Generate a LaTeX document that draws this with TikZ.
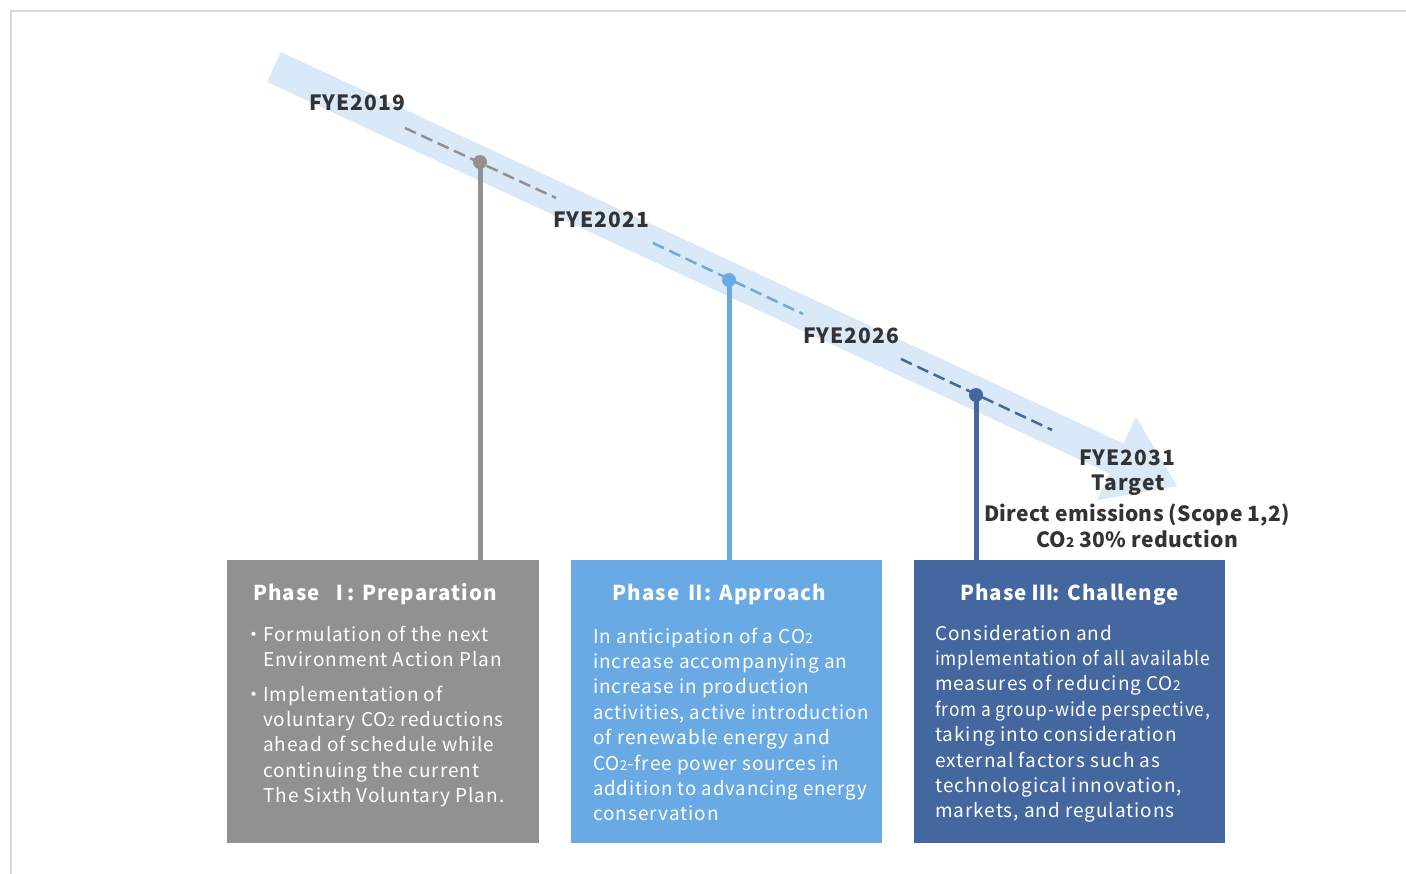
\documentclass[tikz,border=0pt]{standalone}
\usepackage{graphicx}
\usepackage{fontspec}
\setmainfont{Noto Sans CJK JP}[LetterSpace=5]
\newfontfamily\goalfont{Noto Sans CJK JP}[LetterSpace=1.5]
\usetikzlibrary{calc}

\definecolor{band}{HTML}{DAE9F8}
\definecolor{ink}{HTML}{333333}
\definecolor{gphase}{HTML}{919191}
\definecolor{lphase}{HTML}{6AAAE4}
\definecolor{dphase}{HTML}{4467A0}
\definecolor{framegray}{HTML}{D9D9D9}

% CO2 with a small figure two sitting on the baseline
\newcommand\cotwo{CO{\fontsize{13.5}{13.5}\selectfont 2}}
% stacked lines whose first baseline is the node's base
\newcommand\linesL[1]{\begin{tabular}[t]{@{}l@{}}#1\end{tabular}}
\newcommand\linesC[1]{\begin{tabular}[t]{@{}c@{}}#1\end{tabular}}
% a line set to a fixed width
\newcommand\fitw[2]{\resizebox{#1}{\height}{#2}}

\tikzset{
  year/.style={font=\fontsize{21}{26}\selectfont\bfseries, text=ink, anchor=base, inner sep=0pt},
  phasebox/.style={minimum width=#1, minimum height=283pt, anchor=north west, inner sep=0pt},
  title/.style={font=\fontsize{20.5}{26}\selectfont\bfseries, text=white, anchor=base, inner sep=0pt},
  body/.style={font=\fontsize{19}{25.4}\selectfont, text=white, anchor=base west, inner sep=0pt},
  dot/.style={circle, inner sep=0pt, minimum size=14pt, fill=#1},
  stem/.style={line width=5pt, draw=#1},
  dashline/.style={line width=2.5pt, dash pattern=on 12pt off 6pt, draw=#1},
}

\begin{document}
\begin{tikzpicture}[x=1pt,y=-1pt]
\useasboundingbox (0,0) rectangle (1406,874);

% page frame
\draw[framegray, line width=2pt] (10.5,874) -- (10.5,11.5) -- (1406,11.5);

% broad timeline arrow
\fill[band] (280.95,52.03) -- (1123.45,443.53) -- (1135.9,416.8) -- (1177,486)
  -- (1097.1,500.2) -- (1109.55,473.47) -- (267.05,81.97) -- cycle;

% dashed phase segments along the arrow
\coordinate (g1) at (405,128);  \coordinate (g2) at (556,198);
\coordinate (l1) at (653,243);  \coordinate (l2) at (803,314);
\coordinate (k1) at (901,359);  \coordinate (k2) at (1052,430);
\draw[dashline=gphase] (g1) -- (g2);
\draw[dashline=lphase] (l1) -- (l2);
\draw[dashline=dphase] (k1) -- (k2);

% phase boxes
\node[phasebox=312pt, fill=gphase] (b1) at (227,560) {};
\node[phasebox=311pt, fill=lphase] (b2) at (571,560) {};
\node[phasebox=311pt, fill=dphase] (b3) at (914,560) {};

% milestone dots
\node[dot=gphase] (p1) at (480,162) {};
\node[dot=lphase] (p2) at (729,280) {};
\node[dot=dphase] (p3) at (976,395) {};

% stems from milestones down to the boxes
\draw[stem=gphase] (p1.center) -- (p1 |- b1.north);
\draw[stem=lphase] (p2.center) -- (p2 |- b2.north);
\draw[stem=dphase] (p3.center) -- (p3 |- b3.north);

% year labels
\node[year] (y19) at (357,111) {FYE2019};
\node[year] (y21) at (601,228) {FYE2021};
\node[year] (y26) at (851,344) {FYE2026};
\node[year] (y31) at (1127,465) {FYE2031};
\node[year] (tg) at (1128,490) {Target};
\node[year] (gl) at (1137,521) {\goalfont\bfseries\linesC{Direct emissions (Scope 1,2)\\\cotwo{} 30\% reduction}};

% box titles
\node[title] (t1) at (375,600) {Phase \,Ⅰ\kern-2pt: Preparation};
\node[title] (t2) at (719.5,600) {Phase Ⅱ\kern-1pt: Approach};
\node[title] (t3) at (1069.5,600) {Phase Ⅲ\kern-0.5pt: Challenge};

% box texts
\node[body] (s1a) at (263,641) {\linesL{\makebox[0pt][r]{・}Formulation of the next\\Environment Action Plan}};
\node[body] (s1b) at (263,701) {\linesL{\makebox[0pt][r]{・}Implementation of\\voluntary \cotwo{} reductions\\ahead of schedule while\\continuing the current\\The Sixth Voluntary Plan.}};
\node[body] (s2) at (593,643) {\linesL{In anticipation of a \cotwo\\increase accompanying an\\increase in production\\\fitw{276pt}{activities, active introduction}\\of renewable energy and\\\cotwo-free power sources in\\\fitw{274pt}{addition to advancing energy}\\conservation}};
\node[body] (s3) at (935,640) {\linesL{Consideration and\\\fitw{275pt}{implementation of all available}\\measures of reducing \cotwo\\\fitw{275pt}{from a group-wide perspective,}\\taking into consideration\\external factors such as\\technological innovation,\\markets, and regulations}};
\end{tikzpicture}
\end{document}
